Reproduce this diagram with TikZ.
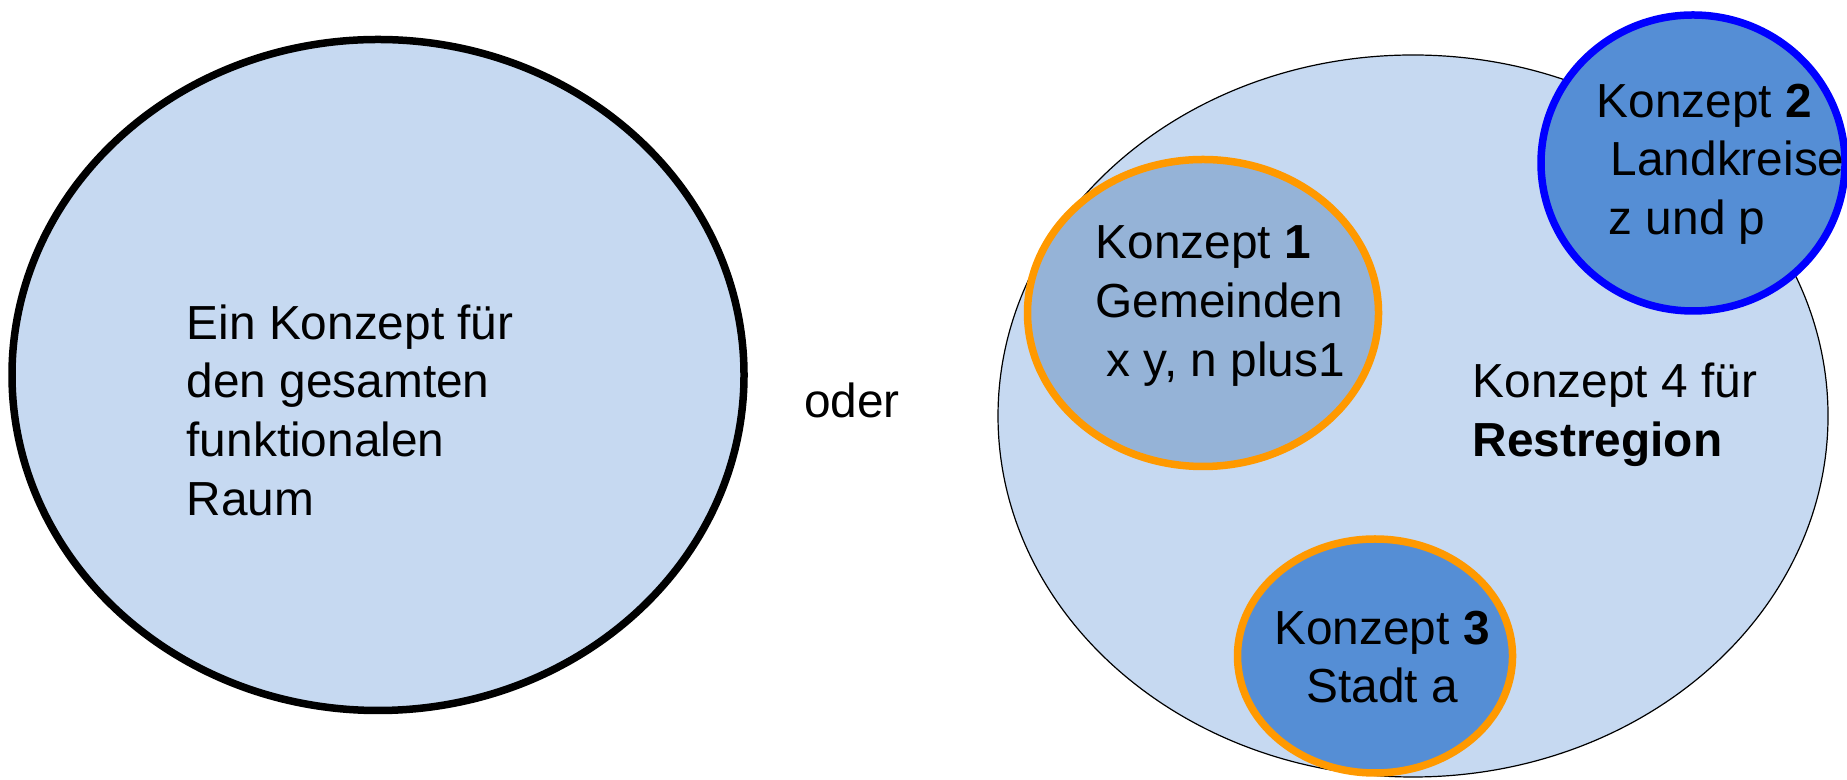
\documentclass[tikz,border=0pt]{standalone}
\usepackage{fontspec}
\setmainfont{Liberation Sans}
\usetikzlibrary{shapes.geometric}
\definecolor{pale}{HTML}{C6D9F1}
\definecolor{midblue}{HTML}{95B3D7}
\definecolor{deepblue}{HTML}{558ED5}
\definecolor{orng}{HTML}{FF9900}
\definecolor{pureblue}{HTML}{0000FF}
\begin{document}
\begin{tikzpicture}[x=0.1mm,y=-0.1mm,
  blob/.style={ellipse, inner sep=0pt, outer sep=0pt},
  txt/.style={font=\fontsize{13.6}{16.7}\selectfont, inner sep=0pt, align=left},
  txtc/.style={font=\fontsize{13.6}{16.7}\selectfont, inner sep=0pt, align=center}]
\useasboundingbox (0,0) rectangle (1847,780);
% left concept
\node[blob, fill=pale, draw=black, line width=0.75mm, minimum width=732*0.1mm, minimum height=671*0.1mm] (whole) at (378,375) {};
\node[txt, anchor=west] (wholetext) at (186,410) {Ein Konzept für\\den gesamten\\funktionalen\\Raum};
% oder
\node[txtc] (oder) at (852,400) {oder};
% right big region
\node[blob, fill=pale, draw=black, line width=0.12mm, minimum width=830*0.1mm, minimum height=722*0.1mm] (rest) at (1413,416) {};
\node[txt, anchor=west] (resttext) at (1472,415) {Konzept 4 für\\\textbf{Restregion}};
% concept 1
\node[blob, fill=midblue, draw=orng, line width=0.75mm, minimum width=351*0.1mm, minimum height=307*0.1mm] (k1) at (1203,313) {};
\node[txt, anchor=west] (k1text) at (1095,306) {Konzept \textbf{1}\\Gemeinden\\\hspace*{1.1mm}x y, n plus1};
% concept 2
\node[blob, fill=deepblue, draw=pureblue, line width=0.75mm, minimum width=304*0.1mm, minimum height=296*0.1mm] (k2) at (1693,163) {};
\node[txt, anchor=west] (k2text) at (1596,164) {Konzept \textbf{2}\\\hspace*{1.4mm}Landkreise\\\hspace*{1.2mm}z und p};
% concept 3
\node[blob, fill=deepblue, draw=orng, line width=0.75mm, minimum width=275*0.1mm, minimum height=234*0.1mm] (k3) at (1375,656) {};
\node[txtc] (k3text) at (1382,657) {Konzept \textbf{3}\\Stadt a};
\end{tikzpicture}
\end{document}
